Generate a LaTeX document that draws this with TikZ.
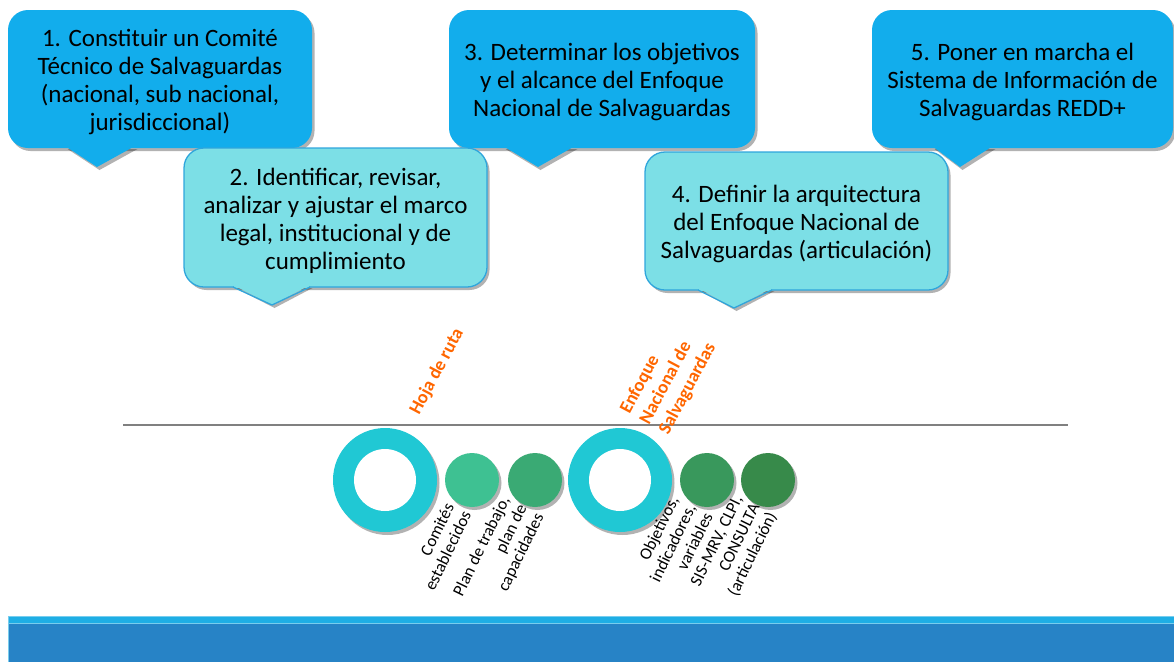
\documentclass[tikz,border=0pt]{standalone}
\usepackage{fontspec}
\setmainfont{Carlito}
\usetikzlibrary{shadows}
\definecolor{blueA}{RGB}{18,173,236}
\definecolor{cyanB}{RGB}{124,223,230}
\definecolor{cyanBorder}{RGB}{47,166,220}
\definecolor{ringc}{RGB}{32,200,212}
\definecolor{gA}{RGB}{62,193,146}
\definecolor{gB}{RGB}{58,170,116}
\definecolor{gC}{RGB}{57,152,92}
\definecolor{gD}{RGB}{55,138,74}
\definecolor{orng}{RGB}{255,102,0}
\definecolor{lineGray}{RGB}{128,128,128}
\definecolor{footLight}{RGB}{31,174,229}
\definecolor{footDark}{RGB}{39,131,198}
\definecolor{footLine}{RGB}{120,205,238}
\begin{document}
\begin{tikzpicture}[x=1pt,y=-1pt,
  shad/.style={drop shadow={shadow xshift=2.5pt,shadow yshift=-3pt,opacity=0.3,fill=black}},
  boxtext/.style={font=\fontsize{25}{28}\selectfont, align=center, inner sep=0pt, text=black, yshift=-3pt},
  darkbox/.style={rectangle, rounded corners=20pt, fill=blueA, shad},
  lightbox/.style={rectangle, rounded corners=20pt, fill=cyanB, draw=cyanBorder, line width=1.3pt, shad},
  bigring/.style={circle, inner sep=0pt, minimum size=104pt, fill=ringc, shad},
  hole/.style={circle, inner sep=0pt, minimum size=62pt, fill=white},
  dot/.style={circle, inner sep=0pt, minimum size=54pt, shad},
  lbl/.style={font=\fontsize{17}{19}\selectfont, rotate=64, anchor=east, align=right, inner sep=0pt},
  olbl/.style={font=\fontsize{18.5}{22}\selectfont\bfseries, text=orng, rotate=62, inner sep=0pt, align=left}
]
\useasboundingbox (0,0) rectangle (1174,662);

% ---- dark callouts (1,3,5)
\node[darkbox, minimum width=304pt, minimum height=138pt] (c1) at (160,79) {};
\node[boxtext] (c1t) at (c1.center)
  {1. Constituir un Comité\\Técnico de Salvaguardas\\(nacional, sub nacional,\\jurisdiccional)};
\coordinate (t1) at (97,167);
\fill[blueA, shad] (65,146) -- (t1) -- (135,146) -- cycle;

\node[darkbox, minimum width=306pt, minimum height=138pt] (c3) at (602,79) {};
\node[boxtext] (c3t) at (c3.center)
  {3. Determinar los objetivos\\y el alcance del Enfoque\\Nacional de Salvaguardas};
\coordinate (t3) at (538,167);
\fill[blueA, shad] (503,146) -- (t3) -- (575,146) -- cycle;

\node[darkbox, minimum width=301pt, minimum height=138pt] (c5) at (1022.5,79) {};
\node[boxtext] (c5t) at (c5.center)
  {5. Poner en marcha el\\Sistema de Información de\\Salvaguardas REDD+};
\coordinate (t5) at (960,167);
\fill[blueA, shad] (932,146) -- (t5) -- (993,146) -- cycle;

% ---- light callouts (2,4)
\node[lightbox, minimum width=303pt, minimum height=139pt] (c2) at (335.5,217.5) {};
\node[boxtext] (c2t) at (c2.center)
  {2. Identificar, revisar,\\analizar y ajustar el marco\\legal, institucional y de\\cumplimiento};
\coordinate (t2) at (272,305);
\fill[cyanB, shad] (233,285) -- (t2) -- (310,285) -- cycle;
\fill[cyanB] (234,284.5) rectangle (309,288.2);
\draw[cyanBorder, line width=1.3pt] (233,287) -- (t2) -- (310,287);

\node[lightbox, minimum width=303pt, minimum height=138pt] (c4) at (796.5,221) {};
\node[boxtext] (c4t) at (c4.center)
  {4. Definir la arquitectura\\del Enfoque Nacional de\\Salvaguardas (articulación)};
\coordinate (t4) at (734,308);
\fill[cyanB, shad] (698,288) -- (t4) -- (772,288) -- cycle;
\fill[cyanB] (699,287.5) rectangle (771,291.2);
\draw[cyanBorder, line width=1.3pt] (698,290) -- (t4) -- (772,290);

% ---- timeline line
\coordinate (la) at (123,425);
\coordinate (lb) at (1068,425);
\draw[lineGray, line width=1.8pt] (la) -- (lb);

% ---- rings and dots
\node[bigring] (r1) at (385,480) {};
\node[hole] (h1) at (r1) {};
\node[bigring] (r2) at (620,480) {};
\node[hole] (h2) at (r2) {};
\node[dot, fill=gA] (d1) at (472,480) {};
\node[dot, fill=gB] (d2) at (535,480) {};
\node[dot, fill=gC] (d3) at (707,480) {};
\node[dot, fill=gD] (d4) at (768,480) {};

% ---- orange labels
\node[olbl, anchor=base west] (hoja) at (419,416) {Hoja de ruta};
\node[olbl, anchor=north west] (enf) at (618,409) {Enfoque\\Nacional de\\Salvaguardas};

% ---- small labels
\node[lbl] (l1) at (458,508) {Comités\\establecidos};
\node[lbl] (l2) at (523,506) {Plan de trabajo,\\plan de\\capacidades};
\node[lbl] (l3) at (691,505) {Objetivos,\\indicadores,\\variables};
\node[lbl] (l4) at (756,505) {SIS-MRV, CLPI,\\CONSULTA\\(articulación)};

% ---- footer band
\fill[footDark] (8,623) rectangle (1174,662);
\fill[footLight] (8,616) rectangle (1174,623);
\draw[footLine, line width=0.8pt] (8,616.4) -- (1174,616.4);
\draw[footLine, line width=0.8pt] (8,623) -- (1174,623);
\draw[footLine, line width=0.8pt] (8.4,616) -- (8.4,662);
\end{tikzpicture}
\end{document}
